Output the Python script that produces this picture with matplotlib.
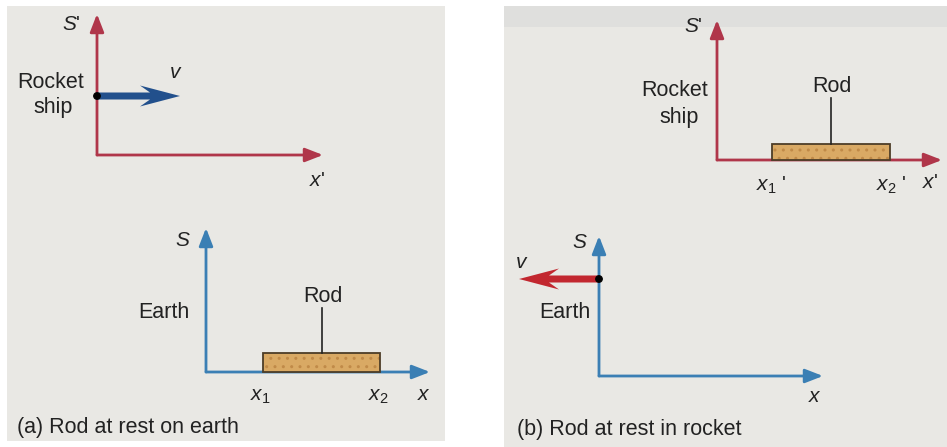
import matplotlib
matplotlib.use("Agg")
import matplotlib.pyplot as plt
from matplotlib.patches import Rectangle, FancyArrow, Circle

plt.rcParams['font.family'] = ['Liberation Sans', 'DejaVu Sans']
plt.rcParams['mathtext.fontset'] = 'custom'
plt.rcParams['mathtext.it'] = 'Liberation Sans:italic'
plt.rcParams['mathtext.rm'] = 'Liberation Sans'

#########################################################################
#  Diagram content (pixel coordinates, y grows downward)
#########################################################################
RED = '#b0364a'
BLUE = '#3b7fb4'
ROD_FILL = '#d9a964'
ROD_EDGE = '#4d3d27'
BG = '#e9e8e4'

# panel (a): rod at rest on earth
a_rocket_origin = (97, 155)
a_rocket_ends = (14, 323)          # top of y axis, tip of x axis
a_earth_origin = (206, 372)
a_earth_ends = (228, 430)
a_rod = (263, 380, 353)            # x1, x2, top
a_velocity = (97, 180, 96)         # from x, to x, y
a_labels = [
    ("$S$'", 71, 24), ("$x$'", 317, 180), ("$v$", 176, 73),
    ("$S$", 183, 240), ("$x_1$", 260, 397), ("$x_2$", 378, 397), ("$x$", 424, 394),
]
a_words = [("Rocket", 51, 82), ("ship", 53, 107), ("Earth", 164, 312), ("Rod", 323, 297)]
a_caption = ("(a) Rod at rest on earth", 17, 428)

# panel (b): rod at rest in rocket
b_rocket_origin = (717, 160)
b_rocket_ends = (20, 942)
b_earth_origin = (599, 376)
b_earth_ends = (236, 823)
b_rod = (772, 890, 144)
b_velocity = (599, 519, 279)
b_labels = [
    ("$S$'", 693, 27), ("$x_1$ '", 771, 185), ("$x_2$ '", 891, 185), ("$x$'", 930, 183),
    ("$S$", 580, 242), ("$v$", 522, 263), ("$x$", 815, 397),
]
b_words = [("Rocket", 675, 90), ("ship", 679, 117), ("Earth", 565, 312), ("Rod", 832, 87)]
b_caption = ("(b) Rod at rest in rocket", 517, 430)

#########################################################################
#  Drawing helpers
#########################################################################
fig = plt.figure(figsize=(9.47, 4.47), dpi=100)
ax = fig.add_axes([0, 0, 1, 1])
ax.set_xlim(0, 947)
ax.set_ylim(447, 0)
ax.axis('off')
fig.patch.set_facecolor('white')

ax.add_patch(Rectangle((7, 6), 438, 435, facecolor=BG, edgecolor='none'))
ax.add_patch(Rectangle((504, 6), 443, 441, facecolor=BG, edgecolor='none'))
ax.add_patch(Rectangle((504, 6), 443, 21, facecolor='#dfdfdd', edgecolor='none'))


def frame(origin, ends, color):
    ox, oy = origin
    top, right = ends
    for tip in [(ox, top), (right, oy)]:
        ax.annotate('', xy=tip, xytext=(ox, oy),
                    arrowprops=dict(arrowstyle='-|>,head_length=0.9,head_width=0.35',
                                    color=color, lw=2.0, shrinkA=0, shrinkB=0,
                                    mutation_scale=12))


def rod(x1, x2, top, base, label_y):
    # fill with a light speckle, then the dark outline on top
    ax.add_patch(Rectangle((x1, top), x2 - x1, base - top, facecolor=ROD_FILL,
                           edgecolor='#c08a48', lw=0, hatch='..', zorder=3))
    ax.add_patch(Rectangle((x1, top), x2 - x1, base - top, facecolor='none',
                           edgecolor=ROD_EDGE, lw=1.3, zorder=3))
    mid = (x1 + x2) / 2
    ax.plot([mid, mid], [label_y + 11, top], color='#222222', lw=1.2, zorder=3)


def velocity(x0, x1, y, color):
    d = x1 - x0
    ax.add_patch(FancyArrow(x0, y, d, 0, width=7, head_width=21, head_length=40,
                            length_includes_head=True, overhang=0.25,
                            facecolor=color, edgecolor='none', zorder=4))
    ax.add_patch(Circle((x0, y), 3.2, color='black', zorder=5))


def texts(labels, words, caption):
    for s, x, y in labels:
        ax.text(x, y, s, fontsize=15, ha='center', va='center', color='#222222')
    for s, x, y in words:
        ax.text(x, y, s, fontsize=15.5, ha='center', va='center', color='#222222')
    s, x, y = caption
    ax.text(x, y, s, fontsize=15.5, ha='left', va='center', color='#222222')


#########################################################################
#  Panel (a)
#########################################################################
frame(a_rocket_origin, a_rocket_ends, RED)
frame(a_earth_origin, a_earth_ends, BLUE)
rod(a_rod[0], a_rod[1], a_rod[2], a_earth_origin[1], a_words[3][2])
velocity(a_velocity[0], a_velocity[1], a_velocity[2], '#22508c')
texts(a_labels, a_words, a_caption)

#########################################################################
#  Panel (b)
#########################################################################
frame(b_rocket_origin, b_rocket_ends, RED)
frame(b_earth_origin, b_earth_ends, BLUE)
rod(b_rod[0], b_rod[1], b_rod[2], b_rocket_origin[1], b_words[3][2])
velocity(b_velocity[0], b_velocity[1], b_velocity[2], '#c2272f')
texts(b_labels, b_words, b_caption)

fig.savefig('out.png', dpi=100, facecolor='white')
